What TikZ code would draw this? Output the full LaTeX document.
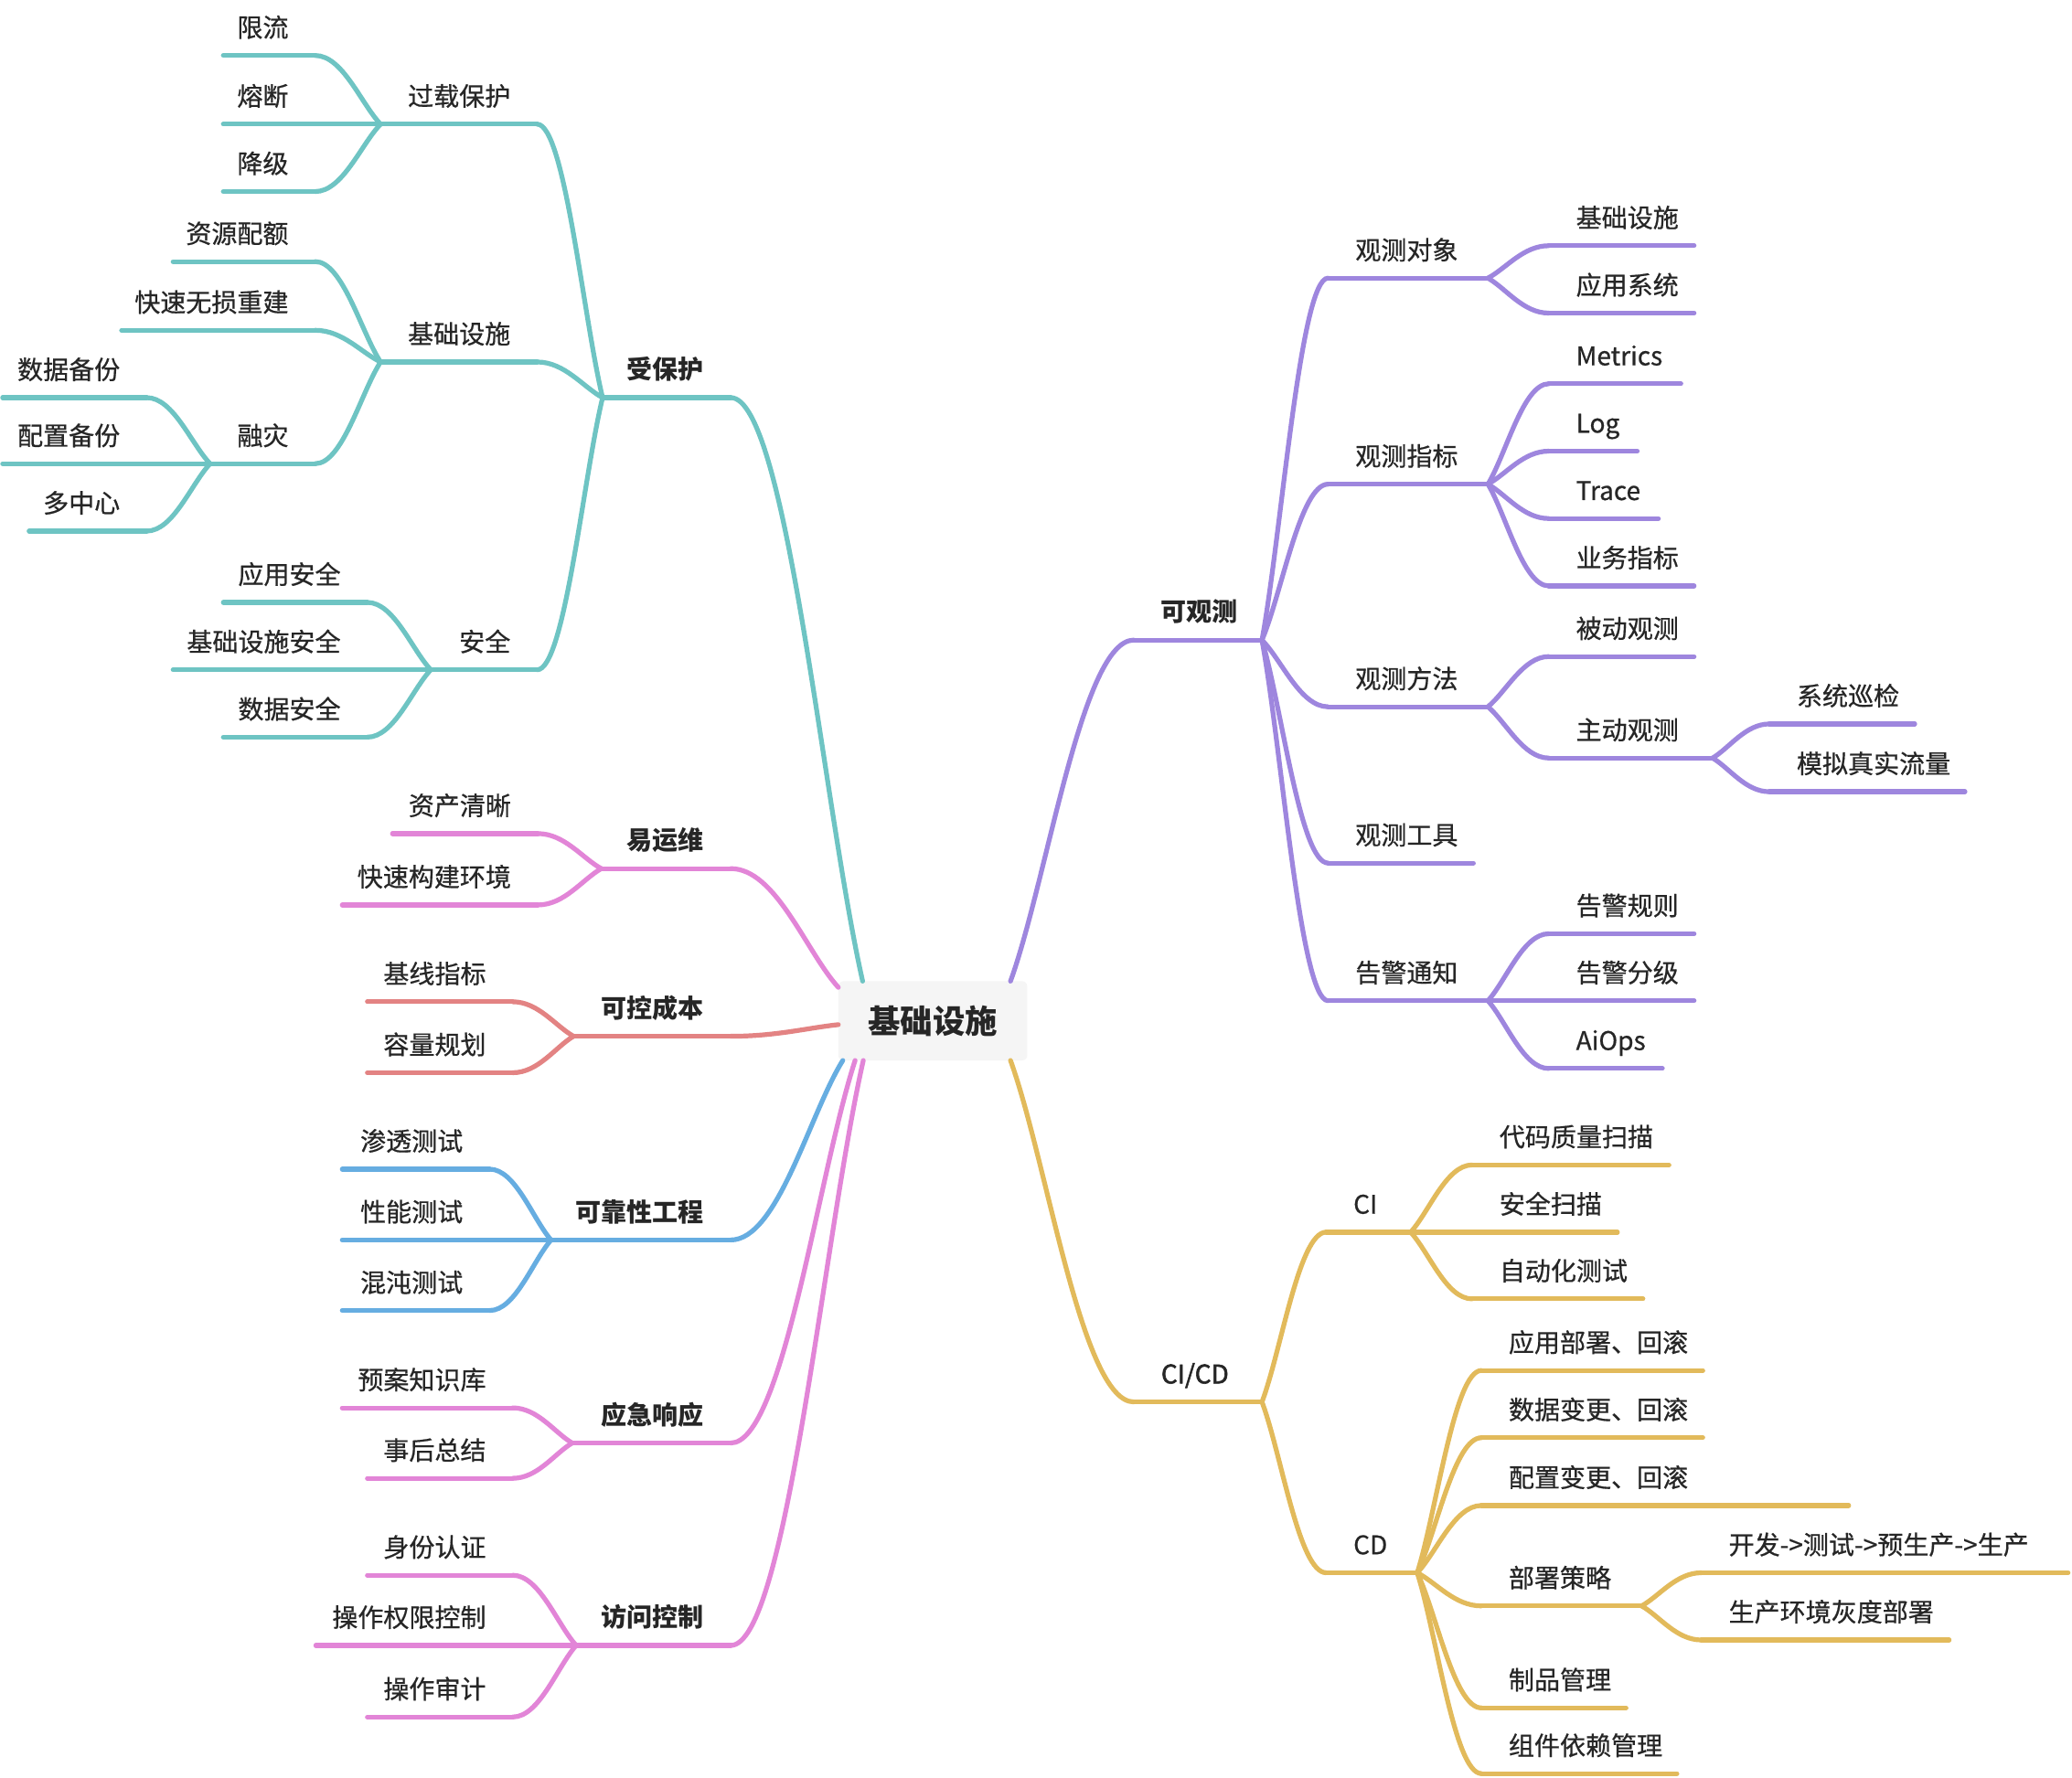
\documentclass[tikz,border=0pt]{standalone}
\usepackage{fontspec}
\setmainfont{Noto Sans CJK SC}
\newfontfamily\regfont{Noto Sans CJK SC}[FakeBold=0.6]
\newfontfamily\medfont{Noto Sans CJK SC}[FakeBold=2]
\usetikzlibrary{calc}
\definecolor{cteal}{HTML}{6EC4C3}
\definecolor{cpurple}{HTML}{9E86DE}
\definecolor{cpink}{HTML}{E285D7}
\definecolor{cred}{HTML}{E38383}
\definecolor{cblue}{HTML}{66ADE1}
\definecolor{cgold}{HTML}{E2BA5B}
\definecolor{ctext}{HTML}{262626}
\definecolor{cbox}{HTML}{F5F5F5}
\tikzset{
  ln/.style={line width=3.6pt, line cap=round},
  curv/.style={to path={let \p1=(\tikztostart), \p2=(\tikztotarget) in
     .. controls ({\x1+0.3*(\x2-\x1)},{\y1+0.3*(\y2-\y1)}) and ({\x2-0.42*(\x2-\x1)},{\y2}) .. (\tikztotarget)}},
  txt/.style={inner sep=0pt, text=ctext, font=\regfont\fontsize{19.4}{23}\selectfont},
  txtb/.style={inner sep=0pt, text=ctext, font=\fontsize{19.4}{23}\selectfont\bfseries},
  txtm/.style={inner sep=0pt, text=ctext, font=\medfont\fontsize{19.4}{23}\selectfont},
  rootbox/.style={fill=cbox, rounded corners=4pt, minimum width=143pt, minimum height=60pt,
     inner sep=0pt, text=ctext, font=\fontsize{24.5}{28}\selectfont\bfseries},
}
% left topic: color, style, name, xl, xr, y, text
\newcommand\LT[7]{%
  \coordinate (#3-l) at (#4,#6);
  \coordinate (#3-r) at (#5,#6);
  \node[#2, anchor=base east] (#3) at ({#5-20},{#6-14}) {#7};
  \draw[ln, #1] (#3-l) -- (#3-r);
}
% right topic: color, style, name, xl, xr, y, text
\newcommand\RT[7]{%
  \coordinate (#3-l) at (#4,#6);
  \coordinate (#3-r) at (#5,#6);
  \node[#2, anchor=base west] (#3) at ({#4+20.5},{#6-14}) {#7};
  \draw[ln, #1] (#3-l) -- (#3-r);
}
\begin{document}
\begin{tikzpicture}[x=1pt,y=-1pt]
\fill[white] (0,0) rectangle (1568,1345.8);
\useasboundingbox (0,0) rectangle (1568,1345.8);

% ---------- left: teal ----------
\LT{cteal}{txtb}{shb}{456}{553}{301}{受保护}
\LT{cteal}{txt}{gzbh}{288}{406.5}{94}{过载保护}
\LT{cteal}{txt}{xl}{169}{238.5}{42}{限流}
\LT{cteal}{txt}{rd}{169}{238.5}{94}{熔断}
\LT{cteal}{txt}{jj}{169}{238.5}{145}{降级}
\LT{cteal}{txt}{jcss}{288}{406.5}{274}{基础设施}
\LT{cteal}{txt}{zypz}{131}{238.5}{198}{资源配额}
\LT{cteal}{txt}{ksws}{92}{238.5}{250}{快速无损重建}
\LT{cteal}{txt}{rz}{159}{238.5}{351}{融灾}
\LT{cteal}{txt}{sjbf}{2}{111}{301}{数据备份}
\LT{cteal}{txt}{pzbf}{2}{111}{351}{配置备份}
\LT{cteal}{txt}{dzx}{22}{111}{402}{多中心}
\LT{cteal}{txt}{aq}{326}{406.5}{507}{安全}
\LT{cteal}{txt}{yyaq}{169}{278}{456}{应用安全}
\LT{cteal}{txt}{jcssaq}{131}{278}{507}{基础设施安全}
\LT{cteal}{txt}{sjaq}{169}{278}{558}{数据安全}

% ---------- left: pink / red / blue ----------
\LT{cpink}{txtb}{yyw}{455}{553}{657.5}{易运维}
\LT{cpink}{txt}{zcqx}{297}{407}{631}{资产清晰}
\LT{cpink}{txt}{ksgj}{259}{407}{685}{快速构建环境}
\LT{cred}{txtb}{kkcb}{434}{553}{784.4}{可控成本}
\LT{cred}{txt}{jxzb}{278}{388}{758.3}{基线指标}
\LT{cred}{txt}{rlgh}{278}{388}{812}{容量规划}
\LT{cblue}{txtb}{kkx}{417}{553}{938.6}{可靠性工程}
\LT{cblue}{txt}{stcs}{259}{370.5}{885}{渗透测试}
\LT{cblue}{txt}{xncs}{259}{370.5}{938.6}{性能测试}
\LT{cblue}{txt}{hdcs}{259}{370.5}{992}{混沌测试}
\LT{cpink}{txtb}{yjxy}{433}{553}{1092.3}{应急响应}
\LT{cpink}{txt}{yazs}{259}{388}{1065.7}{预案知识库}
\LT{cpink}{txt}{shzj}{278}{388}{1119}{事后总结}
\LT{cpink}{txtb}{fwkz}{436}{553}{1245.5}{访问控制}
\LT{cpink}{txt}{sfrz}{278}{388}{1192.4}{身份认证}
\LT{cpink}{txt}{czqx}{239}{388}{1245.5}{操作权限控制}
\LT{cpink}{txt}{czsj}{278}{388}{1299.7}{操作审计}

% ---------- right: purple ----------
\RT{cpurple}{txtb}{kgc}{858}{955}{484.5}{可观测}
\RT{cpurple}{txt}{gcdx}{1005}{1126}{210.5}{观测对象}
\RT{cpurple}{txt}{ojcss}{1172}{1282}{186}{基础设施}
\RT{cpurple}{txt}{yyxt}{1172}{1282}{237}{应用系统}
\RT{cpurple}{txt}{gczb}{1005}{1126}{366.5}{观测指标}
\RT{cpurple}{txt}{met}{1172}{1272}{290.5}{Metrics}
\RT{cpurple}{txt}{log}{1172}{1239}{341.5}{Log}
\RT{cpurple}{txt}{tra}{1172}{1255}{392.5}{Trace}
\RT{cpurple}{txt}{ywzb}{1172}{1282}{443.5}{业务指标}
\RT{cpurple}{txt}{gcff}{1005}{1126}{535}{观测方法}
\RT{cpurple}{txt}{bdgc}{1172}{1282}{497}{被动观测}
\RT{cpurple}{txt}{zdgc}{1172}{1296}{573.8}{主动观测}
\RT{cpurple}{txt}{xtxj}{1339}{1449}{548}{系统巡检}
\RT{cpurple}{txt}{mnll}{1339}{1487}{599.3}{模拟真实流量}
\RT{cpurple}{txt}{gcgj}{1005}{1115}{653.3}{观测工具}
\RT{cpurple}{txt}{gjtz}{1005}{1126}{757.5}{告警通知}
\RT{cpurple}{txt}{gjgz}{1172}{1282}{706.8}{告警规则}
\RT{cpurple}{txt}{gjfj}{1172}{1282}{757.5}{告警分级}
\RT{cpurple}{txt}{aiops}{1172}{1258}{808.8}{AiOps}

% ---------- right: gold ----------
\RT{cgold}{txtm}{cicd}{858}{955}{1061.2}{CI/CD}
\RT{cgold}{txt}{ci}{1003.5}{1067.5}{932.7}{CI}
\RT{cgold}{txt}{dmzl}{1114}{1263}{881.8}{代码质量扫描}
\RT{cgold}{txt}{aqsm}{1114}{1224}{932.7}{安全扫描}
\RT{cgold}{txt}{zdhcs}{1114}{1243.3}{983.2}{自动化测试}
\RT{cgold}{txt}{cd}{1003.5}{1072.5}{1190.5}{CD}
\RT{cgold}{txt}{yybs}{1121}{1288.6}{1037.4}{应用部署、回滚}
\RT{cgold}{txt}{sjbg}{1121}{1288.6}{1088.3}{数据变更、回滚}
\RT{cgold}{txt}{pzbg}{1121}{1399}{1139.6}{配置变更、回滚}
\RT{cgold}{txt}{bscl}{1121}{1242.3}{1215.6}{部署策略}
\RT{cgold}{txt}{kfsc}{1287.5}{1565}{1190.5}{开发->测试->预生产->生产}
\RT{cgold}{txt}{hdbs}{1287.5}{1475}{1241.4}{生产环境灰度部署}
\RT{cgold}{txt}{zpgl}{1121}{1230.5}{1292.8}{制品管理}
\RT{cgold}{txt}{zjyl}{1121}{1269}{1342.5}{组件依赖管理}

% ---------- root and its attachment points ----------
\node[rootbox] (root) at (705.9,772.7) {基础设施};
\coordinate (root-a1) at (652.8,742.7);
\coordinate (root-a2) at (634.4,747.4);
\coordinate (root-a3) at (634.4,775.6);
\coordinate (root-a4) at (637.8,802.7);
\coordinate (root-a5) at (647.1,802.7);
\coordinate (root-a6) at (653.3,802.7);
\coordinate (root-a7) at (764.7,742.7);
\coordinate (root-a8) at (764.7,802.7);

% ---------- connectors ----------
\begin{scope}[ln, cteal]
\draw (root-a1) to[curv] (shb-r);
\draw (shb-l) to[curv] (gzbh-r);
\draw (shb-l) to[curv] (jcss-r);
\draw (shb-l) to[curv] (aq-r);
\draw (gzbh-l) to[curv] (xl-r);
\draw (gzbh-l) to[curv] (rd-r);
\draw (gzbh-l) to[curv] (jj-r);
\draw (jcss-l) to[curv] (zypz-r);
\draw (jcss-l) to[curv] (ksws-r);
\draw (jcss-l) to[curv] (rz-r);
\draw (rz-l) to[curv] (sjbf-r);
\draw (rz-l) to[curv] (pzbf-r);
\draw (rz-l) to[curv] (dzx-r);
\draw (aq-l) to[curv] (yyaq-r);
\draw (aq-l) to[curv] (jcssaq-r);
\draw (aq-l) to[curv] (sjaq-r);
\end{scope}
\begin{scope}[ln, cpink]
\draw (root-a2) to[curv] (yyw-r);
\draw (yyw-l) to[curv] (zcqx-r);
\draw (yyw-l) to[curv] (ksgj-r);
\draw (root-a5) to[curv] (yjxy-r);
\draw (yjxy-l) to[curv] (yazs-r);
\draw (yjxy-l) to[curv] (shzj-r);
\draw (root-a6) to[curv] (fwkz-r);
\draw (fwkz-l) to[curv] (sfrz-r);
\draw (fwkz-l) to[curv] (czqx-r);
\draw (fwkz-l) to[curv] (czsj-r);
\end{scope}
\begin{scope}[ln, cred]
\draw (root-a3) to[curv] (kkcb-r);
\draw (kkcb-l) to[curv] (jxzb-r);
\draw (kkcb-l) to[curv] (rlgh-r);
\end{scope}
\begin{scope}[ln, cblue]
\draw (root-a4) to[curv] (kkx-r);
\draw (kkx-l) to[curv] (stcs-r);
\draw (kkx-l) to[curv] (xncs-r);
\draw (kkx-l) to[curv] (hdcs-r);
\end{scope}
\begin{scope}[ln, cpurple]
\draw (root-a7) to[curv] (kgc-l);
\draw (kgc-r) to[curv] (gcdx-l);
\draw (kgc-r) to[curv] (gczb-l);
\draw (kgc-r) to[curv] (gcff-l);
\draw (kgc-r) to[curv] (gcgj-l);
\draw (kgc-r) to[curv] (gjtz-l);
\draw (gcdx-r) to[curv] (ojcss-l);
\draw (gcdx-r) to[curv] (yyxt-l);
\draw (gczb-r) to[curv] (met-l);
\draw (gczb-r) to[curv] (log-l);
\draw (gczb-r) to[curv] (tra-l);
\draw (gczb-r) to[curv] (ywzb-l);
\draw (gcff-r) to[curv] (bdgc-l);
\draw (gcff-r) to[curv] (zdgc-l);
\draw (zdgc-r) to[curv] (xtxj-l);
\draw (zdgc-r) to[curv] (mnll-l);
\draw (gjtz-r) to[curv] (gjgz-l);
\draw (gjtz-r) to[curv] (gjfj-l);
\draw (gjtz-r) to[curv] (aiops-l);
\end{scope}
\begin{scope}[ln, cgold]
\draw (root-a8) to[curv] (cicd-l);
\draw (cicd-r) to[curv] (ci-l);
\draw (cicd-r) to[curv] (cd-l);
\draw (ci-r) to[curv] (dmzl-l);
\draw (ci-r) to[curv] (aqsm-l);
\draw (ci-r) to[curv] (zdhcs-l);
\draw (cd-r) to[curv] (yybs-l);
\draw (cd-r) to[curv] (sjbg-l);
\draw (cd-r) to[curv] (pzbg-l);
\draw (cd-r) to[curv] (bscl-l);
\draw (cd-r) to[curv] (zpgl-l);
\draw (cd-r) to[curv] (zjyl-l);
\draw (bscl-r) to[curv] (kfsc-l);
\draw (bscl-r) to[curv] (hdbs-l);
\end{scope}
\end{tikzpicture}
\end{document}
